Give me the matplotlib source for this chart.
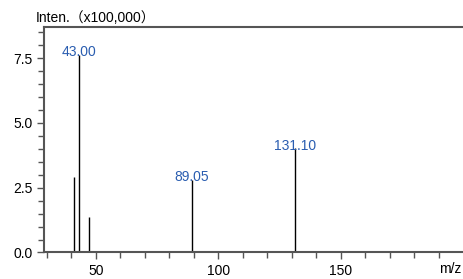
import numpy as np
import matplotlib.pyplot as plt
from matplotlib.ticker import MultipleLocator

plt.rcParams['font.family'] = ['Liberation Sans', 'DejaVu Sans']

# peak list (m/z, intensity in x100,000)
mz = [41.0, 43.0, 47.0, 89.05, 131.10]
inten = [2.92, 7.63, 1.36, 2.80, 4.02]
labels = ['', '43.00', '', '89.05', '131.10']

fig = plt.figure(figsize=(4.63, 2.79), dpi=100)
ax = fig.add_axes([0.096, 0.095, 0.904, 0.81])

ax.vlines(mz, 0, inten, color='black', linewidth=1.0)
for x, y, lab in zip(mz, inten, labels):
    if lab:
        ax.annotate(lab, (x, y), xytext=(0, 2), textcoords='offset points',
                    ha='center', va='center', color='#2a5db0', fontsize=10)

ax.set_xlim(29, 199.8)
ax.set_ylim(0, 8.72)
ax.xaxis.set_major_locator(MultipleLocator(50))
ax.xaxis.set_minor_locator(MultipleLocator(10))
ax.yaxis.set_major_locator(MultipleLocator(2.5))
ax.yaxis.set_minor_locator(MultipleLocator(0.5))
ax.yaxis.set_major_formatter(plt.FormatStrFormatter('%.1f'))

for s in ['left', 'bottom', 'top']:
    ax.spines[s].set_color('#555555')
    ax.spines[s].set_linewidth(1.5)
ax.spines['right'].set_visible(False)
ax.tick_params(which='both', direction='out', color='#555555', labelsize=10)
ax.tick_params(which='major', length=5, width=1)
ax.tick_params(which='minor', length=4, width=1)

fig.text(0.078, 0.935, 'Inten.（x100,000）', fontsize=10, ha='left', va='center',
         family=['Liberation Sans', 'Noto Sans CJK JP', 'DejaVu Sans'])
fig.text(0.997, 0.035, 'm/z', fontsize=10, ha='right', va='center')

fig.savefig('out.png', dpi=100)
